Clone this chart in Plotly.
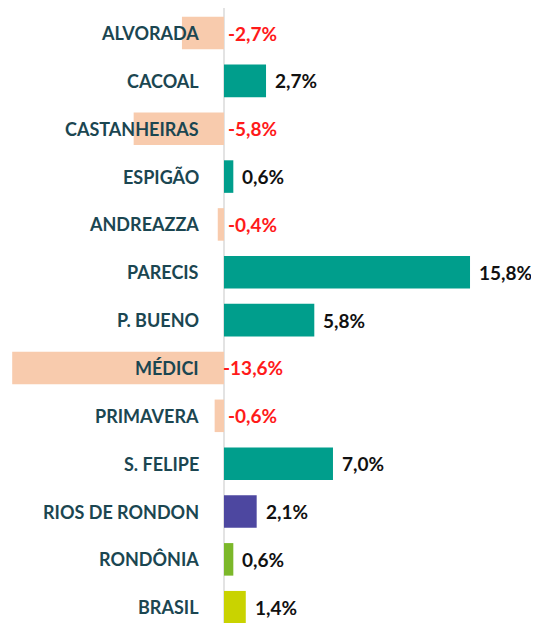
import plotly.graph_objects as go

categories = ["ALVORADA", "CACOAL", "CASTANHEIRAS", "ESPIGÃO", "ANDREAZZA", "PARECIS",
              "P. BUENO", "MÉDICI", "PRIMAVERA", "S. FELIPE", "RIOS DE RONDON", "RONDÔNIA", "BRASIL"]
values = [-2.7, 2.7, -5.8, 0.6, -0.4, 15.8, 5.8, -13.6, -0.6, 7.0, 2.1, 0.6, 1.4]
value_labels = ["-2,7%", "2,7%", "-5,8%", "0,6%", "-0,4%", "15,8%", "5,8%", "-13,6%",
                "-0,6%", "7,0%", "2,1%", "0,6%", "1,4%"]

NEG = "#F8CBAD"
POS = "#009E8C"
special = {"RIOS DE RONDON": "#4D47A0", "RONDÔNIA": "#7CB82A", "BRASIL": "#C9D300"}

colors = []
for c, v in zip(categories, values):
    if c in special:
        colors.append(special[c])
    elif v < 0:
        colors.append(NEG)
    else:
        colors.append(POS)

ypos = list(range(len(categories)))

fig = go.Figure(go.Bar(
    x=values, y=ypos, orientation="h", marker=dict(color=colors, line=dict(width=0)),
    width=0.68, hoverinfo="skip"))

FONT = "Lato"
annotations = []
for i, (c, v, lbl) in enumerate(zip(categories, values, value_labels)):
    annotations.append(dict(x=0, y=i, xref="x", yref="y", text=f"<b>{c}</b>", showarrow=False,
                            xanchor="right", xshift=-23,
                            font=dict(family=FONT, size=18, color="#1B4651")))
    if v < 0:
        annotations.append(dict(x=0, y=i, xref="x", yref="y", text=f"<b>{lbl}</b>", showarrow=False,
                                xanchor="center", xshift=29,
                                font=dict(family=FONT, size=19, color="#FF1A1A")))
    else:
        annotations.append(dict(x=v, y=i, xref="x", yref="y", text=f"<b>{lbl}</b>", showarrow=False,
                                xanchor="left", xshift=7,
                                font=dict(family=FONT, size=19, color="#111111")))

fig.update_layout(
    width=531, height=615, margin=dict(l=0, r=0, t=0, b=0),
    paper_bgcolor="white", plot_bgcolor="white", showlegend=False,
    annotations=annotations,
    xaxis=dict(range=[-13.87, 20.23], showgrid=False, showticklabels=False, zeroline=True,
               zerolinecolor="#E3E3E3", zerolinewidth=2, fixedrange=True),
    yaxis=dict(range=[12.33, -0.523], showgrid=False, showticklabels=False, zeroline=False,
               fixedrange=True),
)
fig.write_html("out.html")
